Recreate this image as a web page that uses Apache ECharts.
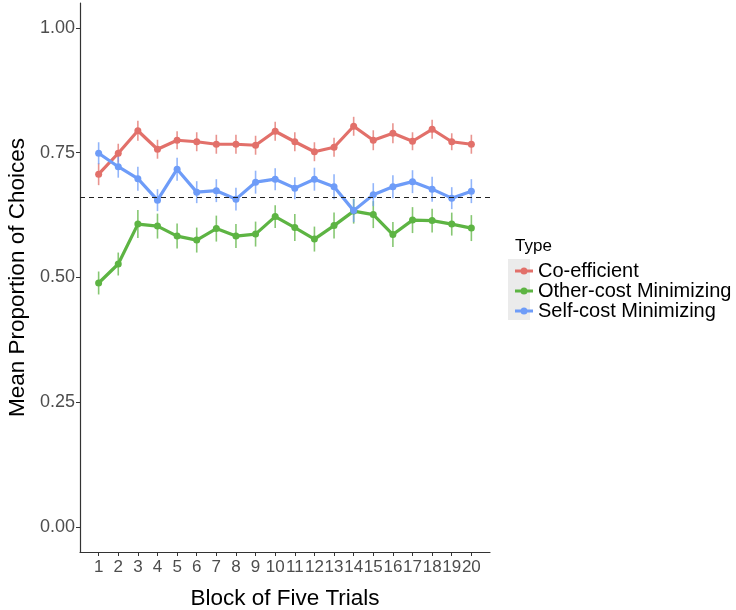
<!DOCTYPE html>
<html><head><meta charset="utf-8">
<script src="https://cdn.jsdelivr.net/npm/echarts@6/dist/echarts.min.js"></script>
<style>html,body{margin:0;padding:0;background:#fff}#c{width:736px;height:610px}</style>
</head><body><div id="c"></div>
<script>
var blocks = [1,2,3,4,5,6,7,8,9,10,11,12,13,14,15,16,17,18,19,20];
var seriesNames = ['Co-efficient','Other-cost Minimizing','Self-cost Minimizing'];
var coEfficient = [0.707,0.749,0.794,0.757,0.775,0.772,0.767,0.767,0.765,0.793,0.772,0.752,0.761,0.803,0.775,0.789,0.773,0.797,0.772,0.767];
var coEfficientErr = [0.022,0.019,0.020,0.019,0.018,0.019,0.019,0.019,0.019,0.019,0.019,0.019,0.019,0.019,0.020,0.020,0.018,0.019,0.017,0.019];
var otherCost = [0.489,0.527,0.607,0.603,0.583,0.575,0.598,0.583,0.587,0.622,0.600,0.577,0.604,0.633,0.626,0.586,0.615,0.614,0.607,0.599];
var otherCostErr = [0.023,0.023,0.028,0.025,0.025,0.025,0.026,0.024,0.025,0.023,0.027,0.025,0.026,0.025,0.027,0.025,0.026,0.024,0.023,0.026];
var selfCost = [0.749,0.722,0.698,0.655,0.717,0.671,0.674,0.657,0.691,0.697,0.679,0.697,0.682,0.634,0.666,0.682,0.692,0.677,0.659,0.673];
var selfCostErr = [0.022,0.022,0.024,0.022,0.023,0.022,0.023,0.023,0.023,0.022,0.022,0.023,0.025,0.023,0.023,0.023,0.023,0.025,0.022,0.024];
var referenceLine = 0.66;
var yTicks = [0,0.25,0.5,0.75,1];

var colors = ['#E2706A','#5DB443','#6E9CF8'];
var means = [coEfficient, otherCost, selfCost];
var errs = [coEfficientErr, otherCostErr, selfCostErr];
var legendIcon = 'path://M0,2h18v3h-18z M12.5,3.5a3.5,3.5 0 1,1 -7,0a3.5,3.5 0 1,1 7,0z';

var chart = echarts.init(document.getElementById('c'));
var series = [];
means.forEach(function(m, k){
  var data = blocks.map(function(b,i){ return [b, m[i]-errs[k][i], m[i]+errs[k][i]]; });
  series.push({
    type:'custom', name: seriesNames[k]+'_err', data: data, z: 2, silent:true,
    encode:{x:0,y:[1,2]},
    renderItem: function(params, api){
      var lo = api.coord([api.value(0), api.value(1)]);
      var hi = api.coord([api.value(0), api.value(2)]);
      return {type:'line', shape:{x1:lo[0],y1:lo[1],x2:hi[0],y2:hi[1]},
        style:{stroke: colors[k], lineWidth:1.6, opacity:0.75}};
    }
  });
});
means.forEach(function(m, k){
  series.push({
    type:'line', name: seriesNames[k], z: 3,
    data: blocks.map(function(b,i){ return [b, m[i]]; }),
    symbol:'circle', symbolSize:7, showSymbol:true,
    lineStyle:{color:colors[k], width:3.2},
    itemStyle:{color:colors[k]},
    emphasis:{disabled:true},
    markLine: k===0 ? {silent:true, symbol:'none', label:{show:false},
      lineStyle:{color:'#222', type:[5,4], width:1.1},
      data:[{yAxis: referenceLine}]} : undefined
  });
});

chart.setOption({
  animation:false,
  backgroundColor:'#fff',
  textStyle:{fontFamily:'Liberation Sans'},
  title:{text:'Type', left:510, top:233, textStyle:{fontSize:17, fontWeight:'normal', color:'#000', fontFamily:'Liberation Sans'}},
  graphic:[{type:'rect', shape:{x:508,y:259,width:22,height:61}, style:{fill:'#EBEBEB'}, z:-1}],
  legend:{
    orient:'vertical', left:510, top:256, itemWidth:18, itemHeight:7, itemGap:0,
    icon: legendIcon,
    data: seriesNames,
    textStyle:{fontSize:20, lineHeight:19.5, color:'#000', fontFamily:'Liberation Sans', padding:[0,0,0,0]},
    selectedMode:false
  },
  grid:{left:80, right:246, top:3, bottom:58, containLabel:false, outerBoundsMode:'none'},
  xAxis:{
    type:'value', min:0.05, max:20.95,
    name:'Block of Five Trials', nameLocation:'middle', nameGap:35,
    nameTextStyle:{fontSize:22.5, color:'#000', fontFamily:'Liberation Sans'},
    axisLine:{show:true, onZero:false, lineStyle:{color:'#333', width:1.2}},
    axisTick:{show:true, customValues: blocks, length:4, lineStyle:{color:'#333'}},
    axisLabel:{customValues: blocks, fontSize:17, color:'#4D4D4D', margin:7, hideOverlap:false, showMinLabel:true, showMaxLabel:true, fontFamily:'Liberation Sans'},
    splitLine:{show:false}
  },
  yAxis:{
    type:'value', min:-0.05, max:1.05,
    name:'Mean Proportion of Choices', nameLocation:'middle', nameGap:51, nameRotate:90,
    nameTextStyle:{fontSize:22.5, color:'#000', fontFamily:'Liberation Sans'},
    axisLine:{show:true, onZero:false, lineStyle:{color:'#333', width:1.2}},
    axisTick:{show:true, customValues: yTicks, length:4, lineStyle:{color:'#333'}},
    axisLabel:{customValues: yTicks, fontSize:18, color:'#4D4D4D', margin:5, fontFamily:'Liberation Sans',
      formatter:function(v){ return v.toFixed(2); }},
    splitLine:{show:false}
  },
  series: series
});
</script></body></html>
